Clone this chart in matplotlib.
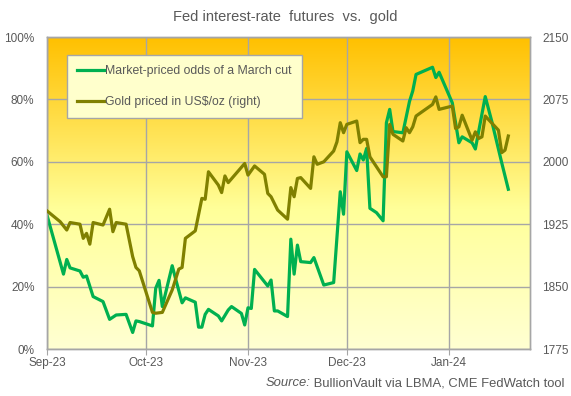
import numpy as np
import pandas as pd
import matplotlib
matplotlib.use("Agg")
import matplotlib.pyplot as plt
import matplotlib.dates as mdates
from matplotlib.colors import LinearSegmentedColormap

plt.rcParams["font.family"] = ["Liberation Sans", "DejaVu Sans"]

# Market-priced odds of a March cut (%)
odds_dates = [
    "2023-09-01", "2023-09-06", "2023-09-07", "2023-09-08", "2023-09-11", "2023-09-12",
    "2023-09-13", "2023-09-15", "2023-09-18", "2023-09-20", "2023-09-22", "2023-09-25",
    "2023-09-27", "2023-09-28", "2023-09-29", "2023-10-03", "2023-10-04", "2023-10-05",
    "2023-10-06", "2023-10-09", "2023-10-10", "2023-10-12", "2023-10-13", "2023-10-16",
    "2023-10-17", "2023-10-18", "2023-10-19", "2023-10-20", "2023-10-23", "2023-10-24",
    "2023-10-26", "2023-10-27", "2023-10-30", "2023-10-31", "2023-11-01", "2023-11-02",
    "2023-11-03", "2023-11-07", "2023-11-08", "2023-11-09", "2023-11-10", "2023-11-13",
    "2023-11-14", "2023-11-15", "2023-11-16", "2023-11-17", "2023-11-20", "2023-11-21",
    "2023-11-24", "2023-11-27", "2023-11-29", "2023-11-30", "2023-12-01", "2023-12-04",
    "2023-12-05", "2023-12-06", "2023-12-07", "2023-12-08", "2023-12-10", "2023-12-12",
    "2023-12-13", "2023-12-14", "2023-12-15", "2023-12-18", "2023-12-20", "2023-12-21",
    "2023-12-22", "2023-12-27", "2023-12-28", "2023-12-29", "2024-01-02", "2024-01-04",
    "2024-01-05", "2024-01-08", "2024-01-09", "2024-01-12", "2024-01-14", "2024-01-17",
    "2024-01-19",
]
odds = [
    42.9, 24.0, 28.7, 26.0, 25.0, 23.0,
    23.4, 16.8, 15.2, 9.5, 10.9, 11.1,
    5.3, 9.0, 8.8, 7.4, 19.5, 22.0,
    13.6, 26.7, 22.6, 14.8, 16.4, 15.0,
    7.0, 7.0, 11.1, 12.7, 10.6, 9.0,
    12.5, 13.6, 11.4, 7.7, 13.2, 13.0,
    25.5, 20.2, 22.1, 12.2, 12.2, 10.4,
    35.2, 24.0, 33.3, 28.0, 27.7, 29.3,
    20.5, 21.3, 50.4, 43.2, 63.2, 57.2,
    62.5, 60.6, 64.3, 45.1, 43.7, 41.1,
    72.5, 76.8, 69.7, 69.3, 79.3, 82.7,
    88.0, 90.3, 87.0, 88.7, 78.9, 66.1,
    68.0, 66.1, 64.1, 80.9, 72.9, 59.7,
    51.2,
]

# Gold priced in US$/oz (right axis)
gold_dates = [
    "2023-09-01", "2023-09-05", "2023-09-07", "2023-09-08", "2023-09-11", "2023-09-12",
    "2023-09-13", "2023-09-14", "2023-09-15", "2023-09-18", "2023-09-20", "2023-09-21",
    "2023-09-22", "2023-09-25", "2023-09-27", "2023-09-28", "2023-09-29", "2023-10-03",
    "2023-10-04", "2023-10-06", "2023-10-09", "2023-10-11", "2023-10-12", "2023-10-13",
    "2023-10-16", "2023-10-18", "2023-10-19", "2023-10-20", "2023-10-23", "2023-10-24",
    "2023-10-25", "2023-10-26", "2023-10-31", "2023-11-01", "2023-11-03", "2023-11-06",
    "2023-11-07", "2023-11-08", "2023-11-10", "2023-11-13", "2023-11-14", "2023-11-15",
    "2023-11-16", "2023-11-17", "2023-11-20", "2023-11-21", "2023-11-22", "2023-11-24",
    "2023-11-27", "2023-11-28", "2023-11-29", "2023-11-30", "2023-12-01", "2023-12-04",
    "2023-12-05", "2023-12-06", "2023-12-07", "2023-12-08", "2023-12-12", "2023-12-13",
    "2023-12-14", "2023-12-15", "2023-12-18", "2023-12-19", "2023-12-20", "2023-12-21",
    "2023-12-22", "2023-12-27", "2023-12-28", "2023-12-29", "2024-01-02", "2024-01-03",
    "2024-01-04", "2024-01-05", "2024-01-08", "2024-01-09", "2024-01-10", "2024-01-11",
    "2024-01-12", "2024-01-16", "2024-01-17", "2024-01-18", "2024-01-19",
]
gold = [
    1941, 1928, 1918, 1927, 1925, 1908,
    1914, 1901, 1927, 1924, 1943, 1916,
    1927, 1925, 1886, 1873, 1869, 1819,
    1818, 1819, 1846, 1871, 1873, 1908,
    1917, 1956, 1955, 1988, 1972, 1963,
    1983, 1975, 1998, 1984, 1995, 1985,
    1962, 1958, 1942, 1931, 1969, 1958,
    1980, 1981, 1968, 2006, 1997, 2000,
    2013, 2024, 2047, 2035, 2045, 2049,
    2023, 2027, 2027, 2006, 1982, 1982,
    2045, 2033, 2025, 2041, 2035, 2042,
    2055, 2069, 2078, 2063, 2067, 2040,
    2042, 2056, 2026, 2036, 2028, 2030,
    2055, 2038, 2011, 2014, 2031,
]

month_ticks = ["2023-09-01", "2023-10-01", "2023-11-01", "2023-12-01", "2024-01-01"]
pct_ticks = [0, 20, 40, 60, 80, 100]
gold_ticks = [1775, 1850, 1925, 2000, 2075, 2150]

GREEN = "#00B050"
OLIVE = "#808000"
GRID = "#A6A6A6"
TEXT = "#595959"

odds_x = pd.to_datetime(odds_dates)
gold_x = pd.to_datetime(gold_dates)
x_min = pd.Timestamp("2023-09-01")
x_max = pd.Timestamp("2024-01-25 14:00")

fig = plt.figure(figsize=(5.71, 3.96), dpi=100)
ax = fig.add_axes([47 / 571, 1 - 349 / 396, 483 / 571, 312 / 396])

# background gradient
bg = LinearSegmentedColormap.from_list(
    "bg", [(0.0, "#FFFFD2"), (0.45, "#FFFF99"), (1.0, "#FFC000")]
)
grad = np.linspace(0, 1, 256).reshape(-1, 1)
ax.imshow(grad, aspect="auto", cmap=bg, origin="lower",
          extent=[mdates.date2num(x_min), mdates.date2num(x_max), 0, 100], zorder=0)

ax.set_xlim(x_min, x_max)
ax.set_ylim(0, 100)
ax.set_yticks(pct_ticks)
ax.set_yticklabels([f"{v}%" for v in pct_ticks])
ax.set_xticks(pd.to_datetime(month_ticks))
ax.xaxis.set_major_formatter(mdates.DateFormatter("%b-%y"))
ax.grid(True, color=GRID, linewidth=1.0, zorder=1)
ax.set_axisbelow(False)

ax2 = ax.twinx()
ax2.set_ylim(1775, 2150)
ax2.set_yticks(gold_ticks)

l1, = ax.plot(odds_x, odds, color=GREEN, linewidth=2.3, zorder=3,
              label="Market-priced odds of a March cut")
l2, = ax2.plot(gold_x, gold, color=OLIVE, linewidth=2.3, zorder=3,
               label="Gold priced in US$/oz (right)")
ax2.set_zorder(ax.get_zorder() + 1)
ax2.patch.set_visible(False)

for a in (ax, ax2):
    for s in a.spines.values():
        s.set_color(GRID)
        s.set_linewidth(1.0)
    a.tick_params(colors=TEXT, labelsize=8.5, length=0, pad=8)
ax.tick_params(axis="x", length=4, color=GRID, pad=2)
ax.tick_params(axis="y", pad=9)
ax2.tick_params(axis="y", pad=9)

leg = ax.legend(handles=[l1, l2], loc="upper left", bbox_to_anchor=(0.045 - 8 / 483, 0.95 + 4 / 312),
                frameon=True, fancybox=False, fontsize=8.8, handlelength=2.2,
                handletextpad=0.05, labelspacing=1.55, borderpad=0.85,
                labelcolor=TEXT)
leg.get_frame().set_facecolor("#FFFFCC")
leg.get_frame().set_edgecolor(GRID)
leg.get_frame().set_alpha(1.0)
leg.set_zorder(5)

fig.text(0.5, 1 - 17 / 396, "Fed interest-rate  futures  vs.  gold", ha="center", va="center",
         fontsize=10.5, color=TEXT)

# source line: italic "Source:" followed by plain text, right-aligned
src = fig.text(565 / 571, 1 - 383 / 396, " BullionVault via LBMA, CME FedWatch tool",
               ha="right", va="center", fontsize=9.4, color=TEXT)
fig.canvas.draw()
bb = src.get_window_extent(renderer=fig.canvas.get_renderer())
fig.text(bb.x0 / fig.bbox.width, 1 - 383 / 396, "Source:", ha="right", va="center",
         fontsize=9.4, color=TEXT, style="italic")

fig.savefig("out.png", dpi=100)
